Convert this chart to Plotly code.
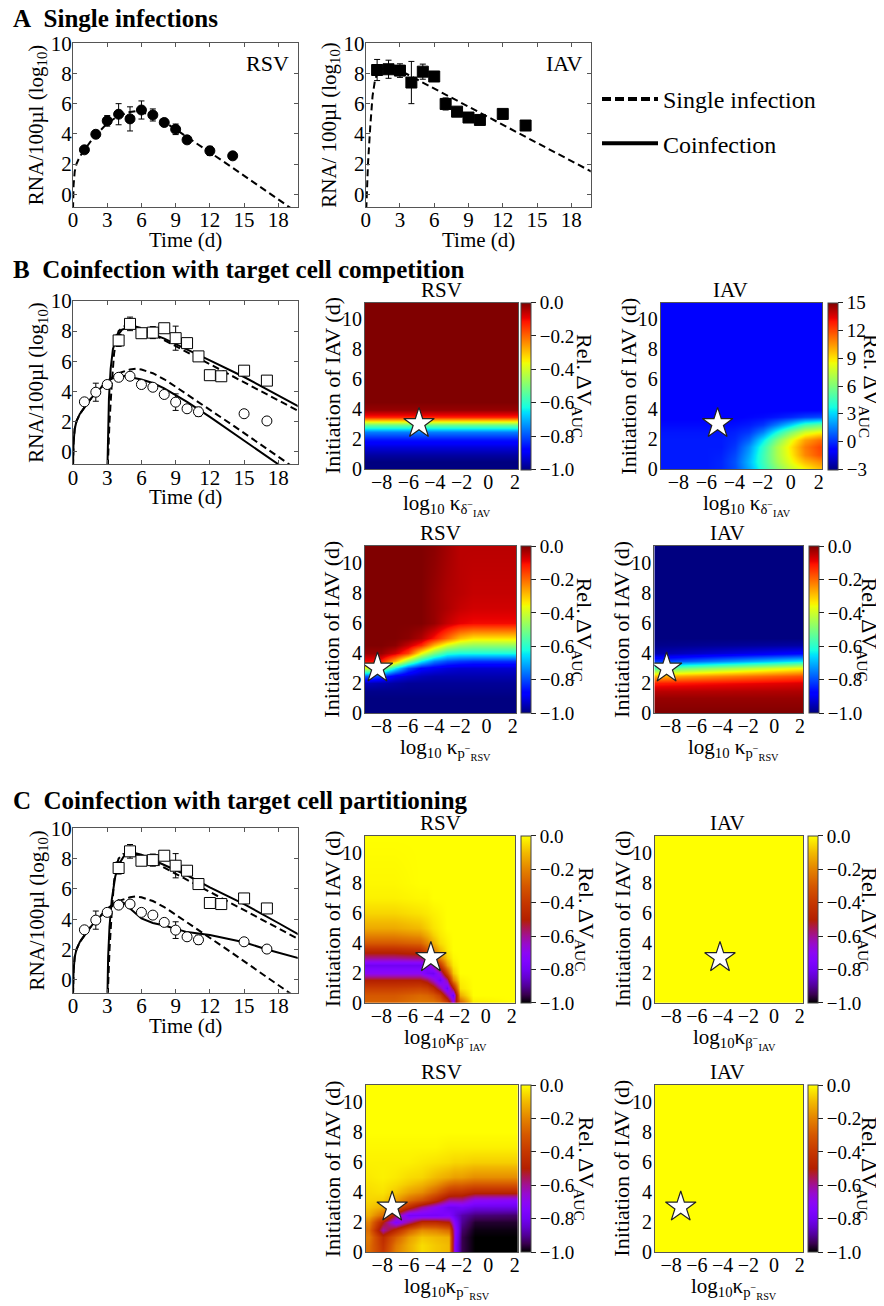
import numpy as np
import plotly.graph_objects as go

W, H = 884, 1306
OFF = 8  # the page body margin shifts the figure by 8 px
SERIF = "Liberation Serif"

# ---------------- panel A: single infections ----------------
a_rsv_day = [1, 2, 3, 4, 5, 6, 7, 8, 9, 10, 12, 14]
a_rsv_rna = [2.94, 3.97, 4.86, 5.3, 4.99, 5.58, 5.25, 4.75, 4.3, 3.6, 2.87, 2.54]
a_rsv_err = [0.1, 0.25, 0.35, 0.7, 0.8, 0.6, 0.4, 0.25, 0.35, 0.1, 0.3, 0.0]

a_iav_day = [1, 2, 3, 4, 5, 6, 7, 8, 9, 10, 12, 14]
a_iav_rna = [8.23, 8.28, 8.19, 7.4, 8.12, 7.8, 5.98, 5.47, 5.08, 4.92, 5.32, 4.55]
a_iav_err = [0.7, 0.6, 0.45, 1.4, 0.5, 0.3, 0.4, 0.3, 0.0, 0.0, 0.0, 0.2]

# model fits, single infection
rsv_single_day = [0, 0.05, 0.15, 0.3, 0.6, 1, 1.5, 2, 3, 4, 5, 5.5, 6, 7, 8, 9, 10, 12, 14, 16, 18, 20]
rsv_single_rna = [-1.0, 0.6, 1.5, 2.0, 2.5, 2.95, 3.45, 3.9, 4.7, 5.2, 5.45, 5.5, 5.45, 5.2, 4.8, 4.3, 3.8,
                  2.8, 1.75, 0.7, -0.35, -1.4]
iav_single_day = [0.05, 0.2, 0.4, 0.6, 0.8, 1.0, 1.4, 2, 3, 5, 8, 10, 12, 15, 18, 20]
iav_single_rna = [-1.0, 2.0, 4.5, 6.5, 7.5, 8.0, 8.3, 8.4, 8.2, 7.4, 6.2, 5.4, 4.6, 3.4, 2.2, 1.4]

# ---------------- panels B / C: coinfection data ----------------
co_iav_day = [4, 5, 6, 7, 8, 9, 10, 11, 12, 13, 15, 17]
co_iav_rna = [7.38, 8.48, 7.86, 7.9, 8.19, 7.53, 7.2, 6.32, 5.07, 5.0, 5.37, 4.71]
co_iav_err = [0.4, 0.45, 0.0, 0.4, 0.0, 0.8, 0.0, 0.0, 0.0, 0.3, 0.0, 0.0]
co_rsv_day = [1, 2, 3, 4, 5, 6, 7, 8, 9, 10, 11, 15, 17]
co_rsv_rna = [3.3, 3.94, 4.45, 4.93, 5.0, 4.45, 4.27, 3.79, 3.28, 2.84, 2.64, 2.51, 2.03]
co_rsv_err = [0.0, 0.6, 0.0, 0.0, 0.0, 0.0, 0.0, 0.0, 0.55, 0.0, 0.3, 0.0, 0.0]

# IAV single-infection fit, IAV given at day 3
iav_late_day = [3.05, 3.2, 3.4, 3.6, 3.8, 4.0, 4.4, 5, 6, 8, 11, 13, 15, 18, 20]
iav_late_rna = [-1.0, 2.0, 4.5, 6.5, 7.5, 8.0, 8.3, 8.4, 8.2, 7.4, 6.2, 5.4, 4.6, 3.4, 2.6]

# B: competition model
b_rsv_co_day = [0, 0.05, 0.15, 0.3, 0.6, 1, 1.5, 2, 3, 3.5, 4, 4.5, 5, 6, 7, 8, 9, 10, 12, 14, 16, 18, 20]
b_rsv_co_rna = [-1.0, 0.6, 1.5, 2.0, 2.5, 2.95, 3.45, 3.9, 4.65, 4.88, 5.0, 5.02, 4.95, 4.78, 4.55, 4.2,
                3.75, 3.3, 2.3, 1.25, 0.2, -0.85, -1.9]
b_iav_co_day = [3.02, 3.08, 3.15, 3.3, 3.5, 3.8, 4.3, 5, 6, 8, 10, 12, 15, 18, 20]
b_iav_co_rna = [-1.0, 1.5, 3.5, 5.5, 6.8, 7.6, 8.1, 8.25, 8.1, 7.5, 6.8, 6.05, 4.95, 3.7, 2.9]

# C: partitioning model
c_rsv_co_day = [0, 0.05, 0.15, 0.3, 0.6, 1, 1.5, 2, 3, 3.5, 4, 4.5, 5, 6, 7, 8, 10, 12, 15, 17, 20]
c_rsv_co_rna = [-1.0, 0.6, 1.5, 2.0, 2.5, 2.95, 3.45, 3.9, 4.65, 5.0, 5.25, 5.05, 4.7, 4.05, 3.75, 3.58,
                3.15, 2.96, 2.48, 2.0, 1.38]
c_iav_co_day = [3.02, 3.08, 3.2, 3.4, 3.7, 4.0, 4.5, 5, 6, 8, 10, 12, 15, 18, 20]
c_iav_co_rna = [-1.0, 1.5, 3.5, 5.3, 6.8, 7.6, 8.2, 8.45, 8.25, 7.6, 6.9, 6.1, 5.0, 3.75, 2.9]

# ---------------- heatmaps: Rel. dV_AUC vs log10 kappa and IAV start ----------------
hm_rows = [0, 0.5, 1, 1.5, 2, 2.5, 3, 3.5, 4, 4.5, 5, 6, 7, 8, 11]

b1_rsv_x = [-9, 2]
b1_rsv_profile = [-1.0, -1.0, -0.97, -0.92, -0.86, -0.75, -0.52, -0.12, -0.02, 0, 0, 0, 0, 0, 0]

b1_iav_x = [-9, -8, -7, -6, -5, -4, -3, -2, -1, 0, 1, 2]
b1_iav_z = [
    [-0.3, -0.3, -0.3, -0.3, -0.1, 0.6, 2.2, 4.2, 6.0, 7.5, 8.5, 9.5],
    [-0.3, -0.3, -0.3, -0.3, -0.1, 0.7, 2.5, 4.6, 6.8, 8.4, 9.8, 10.6],
    [-0.3, -0.3, -0.3, -0.3, -0.2, 0.5, 2.2, 4.6, 7.0, 8.8, 10.8, 11.8],
    [-0.3, -0.3, -0.3, -0.3, -0.3, 0.2, 1.8, 4.3, 7.0, 9.0, 11.0, 12.0],
    [-0.3, -0.3, -0.3, -0.3, -0.3, 0.0, 1.0, 3.3, 6.0, 8.3, 10.3, 11.2],
    [-0.4, -0.4, -0.4, -0.4, -0.4, -0.2, 0.2, 1.5, 3.8, 6.0, 7.8, 8.5],
    [-0.6, -0.6, -0.6, -0.6, -0.6, -0.5, -0.3, 0.2, 1.5, 3.0, 4.8, 5.5],
    [-0.8, -0.8, -0.8, -0.8, -0.8, -0.8, -0.7, -0.6, -0.4, -0.1, 0.3, 0.5],
    [-0.8] * 12, [-0.8] * 12, [-0.8] * 12, [-0.8] * 12, [-0.8] * 12, [-0.8] * 12, [-0.8] * 12,
]

b2_rsv_x = [-9, -8, -7, -6, -5, -4, -3, -2, -1, 2]
b2_rsv_z = [
    [-1.0] * 10,
    [-1.0] * 10,
    [-1.0] * 10,
    [-0.99] * 10,
    [-0.95, -0.96, -0.97, -0.98, -0.98, -0.98, -0.98, -0.98, -0.98, -0.98],
    [-0.78, -0.82, -0.9, -0.93, -0.95, -0.96, -0.96, -0.96, -0.96, -0.96],
    [-0.4, -0.45, -0.64, -0.8, -0.88, -0.9, -0.92, -0.93, -0.93, -0.93],
    [-0.1, -0.12, -0.28, -0.48, -0.64, -0.75, -0.8, -0.82, -0.83, -0.83],
    [-0.02, -0.02, -0.07, -0.16, -0.36, -0.5, -0.6, -0.62, -0.62, -0.62],
    [0, 0, -0.01, -0.06, -0.13, -0.28, -0.39, -0.45, -0.47, -0.47],
    [0, 0, 0, -0.01, -0.04, -0.11, -0.2, -0.29, -0.33, -0.33],
    [0, 0, 0, 0, 0, -0.02, -0.06, -0.09, -0.1, -0.1],
    [0, 0, 0, 0, 0, -0.02, -0.04, -0.06, -0.07, -0.07],
    [0, 0, 0, 0, 0, -0.02, -0.04, -0.05, -0.06, -0.06],
    [0, 0, 0, 0, 0, -0.01, -0.03, -0.05, -0.05, -0.05],
]

b2_iav_x = [-9, 2]
b2_iav_z = [
    [0.0, 0.0], [-0.01, -0.01], [-0.02, -0.02], [-0.05, -0.04], [-0.12, -0.08], [-0.28, -0.17],
    [-0.55, -0.36], [-0.82, -0.65], [-0.96, -0.88], [-0.99, -0.97], [-1.0, -1.0], [-1.0, -1.0],
    [-1.0, -1.0], [-1.0, -1.0], [-1.0, -1.0],
]

c1_rsv_x = [-9, -7, -5, -4.5, -4, -3.5, -3, -2.5, -2, -1, 2]
c1_rsv_z = [
    [-0.27, -0.27, -0.22, -0.22, -0.22, -0.25, -0.35, -0.65, -0.3, -0.03, 0],
    [-0.3, -0.3, -0.26, -0.27, -0.3, -0.38, -0.6, -0.8, -0.12, 0, 0],
    [-0.38, -0.38, -0.36, -0.38, -0.45, -0.6, -0.8, -0.5, -0.04, 0, 0],
    [-0.5, -0.5, -0.5, -0.55, -0.65, -0.8, -0.6, -0.2, -0.02, 0, 0],
    [-0.7, -0.7, -0.7, -0.78, -0.8, -0.65, -0.35, -0.08, 0, 0, 0],
    [-0.8, -0.8, -0.8, -0.75, -0.6, -0.4, -0.15, -0.03, 0, 0, 0],
    [-0.6, -0.6, -0.58, -0.5, -0.38, -0.2, -0.07, -0.01, 0, 0, 0],
    [-0.45, -0.45, -0.42, -0.32, -0.22, -0.1, -0.03, 0, 0, 0, 0],
    [-0.3, -0.3, -0.27, -0.2, -0.12, -0.05, -0.02, 0, 0, 0, 0],
    [-0.2, -0.2, -0.17, -0.12, -0.07, -0.03, -0.01, 0, 0, 0, 0],
    [-0.13, -0.13, -0.1, -0.07, -0.04, -0.02, 0, 0, 0, 0, 0],
    [-0.06, -0.06, -0.04, -0.03, -0.02, -0.01, 0, 0, 0, 0, 0],
    [-0.02, -0.02, -0.01, -0.01, 0, 0, 0, 0, 0, 0, 0],
    [-0.01, -0.01, 0, 0, 0, 0, 0, 0, 0, 0, 0],
    [0] * 11,
]

c2_rsv_x = [-9, -8, -7, -6, -5, -4, -3, -2.5, -2, -1, 2]
c2_rsv_z = [
    [-0.25, -0.4, -0.2, -0.12, -0.05, -0.08, -0.1, -0.75, -0.95, -1.0, -1.0],
    [-0.24, -0.42, -0.22, -0.12, -0.05, -0.08, -0.1, -0.75, -0.95, -1.0, -1.0],
    [-0.22, -0.45, -0.28, -0.15, -0.08, -0.1, -0.12, -0.72, -0.95, -1.0, -1.0],
    [-0.25, -0.62, -0.45, -0.28, -0.18, -0.2, -0.25, -0.7, -0.93, -0.99, -0.99],
    [-0.2, -0.5, -0.75, -0.6, -0.45, -0.45, -0.5, -0.75, -0.9, -0.97, -0.97],
    [-0.12, -0.25, -0.55, -0.78, -0.78, -0.78, -0.75, -0.82, -0.88, -0.92, -0.93],
    [-0.08, -0.12, -0.3, -0.45, -0.6, -0.7, -0.8, -0.8, -0.78, -0.82, -0.82],
    [-0.06, -0.07, -0.15, -0.25, -0.32, -0.45, -0.6, -0.6, -0.6, -0.7, -0.72],
    [-0.05, -0.04, -0.08, -0.14, -0.18, -0.28, -0.4, -0.42, -0.42, -0.47, -0.47],
    [-0.04, -0.03, -0.05, -0.08, -0.11, -0.17, -0.25, -0.27, -0.27, -0.3, -0.3],
    [-0.03, -0.02, -0.03, -0.05, -0.06, -0.1, -0.13, -0.15, -0.15, -0.18, -0.18],
    [-0.02, -0.02, -0.02, -0.02, -0.03, -0.04, -0.05, -0.06, -0.06, -0.07, -0.07],
    [-0.01, -0.01, -0.01, -0.01, -0.01, -0.01, -0.02, -0.02, -0.02, -0.02, -0.02],
    [0] * 11,
    [0] * 11,
]

c_iav_x = [-9, 2]
c_iav_y = [0, 11]
c1_iav_z = [[0.0, 0.0], [0.0, 0.0]]
c2_iav_z = [[0.0, 0.0], [0.0, 0.0]]

# fitted parameter (star) for each row of heatmaps
star_b1 = (-5.2, 3.05)
star_b2 = (-8.3, 3.0)
star_c1 = (-4.2, 3.0)
star_c2 = (-7.25, 3.0)

# ---------------- colour maps ----------------
JET = [[0, "rgb(0,0,128)"], [0.11, "rgb(0,0,255)"], [0.125, "rgb(0,0,255)"], [0.34, "rgb(0,219,255)"],
       [0.35, "rgb(0,230,247)"], [0.375, "rgb(21,255,226)"], [0.64, "rgb(239,255,8)"],
       [0.65, "rgb(247,245,0)"], [0.66, "rgb(255,236,0)"], [0.89, "rgb(255,19,0)"],
       [0.91, "rgb(232,0,0)"], [1, "rgb(128,0,0)"]]
GNUPLOT = [[0, "rgb(0,0,0)"], [0.05, "rgb(57,0,79)"], [0.1, "rgb(81,0,150)"], [0.15, "rgb(99,1,206)"],
           [0.2, "rgb(114,2,243)"], [0.25, "rgb(128,4,255)"], [0.3, "rgb(140,7,243)"],
           [0.35, "rgb(151,11,206)"], [0.4, "rgb(161,16,150)"], [0.45, "rgb(171,23,79)"],
           [0.5, "rgb(180,32,0)"], [0.6, "rgb(198,55,0)"], [0.7, "rgb(213,87,0)"],
           [0.8, "rgb(228,131,0)"], [0.9, "rgb(242,186,0)"], [1, "rgb(255,255,0)"]]

# ---------------- layout boxes (pixels in the final picture) ----------------
BOX = {
    1: (73, 297.7, 43.3, 207), 2: (365.7, 590.7, 43.3, 207),
    3: (73, 297.7, 301, 464.3), 4: (73, 297.7, 828.3, 992.7),
    5: (365, 518.3, 302.7, 469.3), 6: (660.7, 822.3, 302.7, 469.3),
    7: (365, 516, 546, 713.3), 8: (654.3, 803.3, 546, 713.3),
    9: (365, 515, 836, 1002.7), 10: (655, 803, 836, 1002.7),
    11: (365.7, 518, 1085, 1252.3), 12: (655, 803, 1085, 1252.3),
}
CB_X = {5: 520.7, 6: 828, 7: 520.7, 8: 808.7, 9: 520.7, 10: 808, 11: 520.7, 12: 808}
CB_TITLE_X = {5: 583, 6: 870, 7: 583, 8: 868, 9: 585, 10: 868, 11: 585, 12: 868}


def fx(px):
    return (px - OFF) / W


def fy(py):
    return 1 - (py - OFF) / H


def refs(n):
    return ("x" if n == 1 else f"x{n}"), ("y" if n == 1 else f"y{n}")


fig = go.Figure()
annotations = []


def note(text, x, y, size, angle=0, xanchor="center", yanchor="middle"):
    annotations.append(dict(text=text, x=fx(x), y=fy(y), xref="paper", yref="paper", showarrow=False,
                            textangle=angle, xanchor=xanchor, yanchor=yanchor,
                            font=dict(family=SERIF, size=size, color="black")))


def line_axes(n, ytitle):
    l, r, t, b = BOX[n]
    xr, yr = refs(n)
    style = dict(showline=True, mirror="ticks", linecolor="#555", linewidth=1.2, ticks="inside", ticklen=4,
                 tickcolor="#555", showgrid=False, zeroline=False, automargin=False,
                 tickfont=dict(family=SERIF, size=21, color="black"))
    fig.update_layout(**{
        ("xaxis" if n == 1 else f"xaxis{n}"): dict(domain=[fx(l), fx(r)], anchor=yr, range=[0, 19.7],
                                                  tickvals=[0, 3, 6, 9, 12, 15, 18], ticklabelstandoff=-6,
                                                  **style),
        ("yaxis" if n == 1 else f"yaxis{n}"): dict(domain=[fy(b), fy(t)], anchor=xr, range=[-0.85, 10],
                                                  tickvals=[0, 2, 4, 6, 8, 10], ticklabelstandoff=-4,
                                                  **style),
    })
    note("Time (d)", (l + r) / 2, b + 33, 21)
    note(ytitle, l - 36, (t + b) / 2, 21, angle=-90)


def heat_axes(n, title, xtitle):
    l, r, t, b = BOX[n]
    xr, yr = refs(n)
    style = dict(showline=True, mirror=True, linecolor="#555", linewidth=1, ticks="", showgrid=False,
                 zeroline=False, automargin=False, tickfont=dict(family=SERIF, size=20, color="black"))
    fig.update_layout(**{
        f"xaxis{n}": dict(domain=[fx(l), fx(r)], anchor=yr, range=[-9.25, 2.25], ticklabelstandoff=-5,
                          tickvals=[-8, -6, -4, -2, 0, 2], **style),
        f"yaxis{n}": dict(domain=[fy(b), fy(t)], anchor=xr, range=[0, 11.1], ticklabelstandoff=-2,
                          tickvals=[0, 2, 4, 6, 8, 10], **style),
    })
    cx = (l + r) / 2 if title == "RSV" else (730 if n == 6 else 727)
    note(title, cx, t - 13, 21)
    note(xtitle, (l + r) / 2 + 5, b + 36, 21)
    note("Initiation of IAV (d)", l - 33, (t + b) / 2, 22, angle=-90)
    note("Rel. ΔV<sub>AUC</sub>", CB_TITLE_X[n], (t + b) / 2, 22, angle=90)


def heat(n, x, y, z, scale, zmin, zmax, ticks, star):
    l, r, t, b = BOX[n]
    xr, yr = refs(n)
    fig.add_trace(go.Heatmap(
        x=x, y=y, z=z, colorscale=scale, zmin=zmin, zmax=zmax, zsmooth="best", xaxis=xr, yaxis=yr,
        hoverinfo="skip",
        colorbar=dict(x=fx(CB_X[n]), xanchor="left", y=fy((t + b) / 2), yanchor="middle",
                      len=(b - t) / H, lenmode="fraction", thickness=10, xpad=0, ypad=0,
                      outlinewidth=1, outlinecolor="#444", ticks="outside", ticklen=5, tickcolor="#222",
                      tickvals=ticks, tickformat=".1f" if zmax == 0 else "d",
                      tickfont=dict(family=SERIF, size=19, color="black"))))
    fig.add_trace(go.Scatter(x=[star[0]], y=[star[1]], mode="markers", xaxis=xr, yaxis=yr, showlegend=False,
                             marker=dict(symbol="star", size=23, color="white",
                                         line=dict(color="#222", width=1.2))))


def curve(n, day, rna, dashed):
    xr, yr = refs(n)
    fig.add_trace(go.Scatter(x=day, y=rna, mode="lines", xaxis=xr, yaxis=yr, showlegend=False,
                             line=dict(color="black", width=2, dash="7px,4px" if dashed else "solid")))


def points(n, day, rna, err, symbol, filled):
    xr, yr = refs(n)
    fig.add_trace(go.Scatter(
        x=day, y=rna, mode="markers", xaxis=xr, yaxis=yr, showlegend=False,
        error_y=dict(type="data", array=err, visible=True, thickness=1, width=3, color="black"),
        marker=dict(symbol=symbol, size=11 if symbol == "square" else 10,
                    color="black" if filled else "white", line=dict(color="black", width=1))))


# ---- A
curve(1, rsv_single_day, rsv_single_rna, True)
points(1, a_rsv_day, a_rsv_rna, a_rsv_err, "circle", True)
curve(2, iav_single_day, iav_single_rna, True)
points(2, a_iav_day, a_iav_rna, a_iav_err, "square", True)
line_axes(1, "RNA/100µl (log<sub>10</sub>)")
line_axes(2, "RNA/ 100µl (log<sub>10</sub>)")
annotations.append(dict(text="RSV", x=0.97, y=0.965, xref="x domain", yref="y domain", showarrow=False,
                        xanchor="right", yanchor="top", font=dict(family=SERIF, size=22, color="black")))
annotations.append(dict(text="IAV", x=0.97, y=0.965, xref="x2 domain", yref="y2 domain", showarrow=False,
                        xanchor="right", yanchor="top", font=dict(family=SERIF, size=22, color="black")))

# ---- B and C time courses
for n, rsv_co, iav_co in [(3, (b_rsv_co_day, b_rsv_co_rna), (b_iav_co_day, b_iav_co_rna)),
                          (4, (c_rsv_co_day, c_rsv_co_rna), (c_iav_co_day, c_iav_co_rna))]:
    curve(n, rsv_single_day, rsv_single_rna, True)
    curve(n, iav_late_day, iav_late_rna, True)
    curve(n, rsv_co[0], rsv_co[1], False)
    curve(n, iav_co[0], iav_co[1], False)
    points(n, co_rsv_day, co_rsv_rna, co_rsv_err, "circle", False)
    points(n, co_iav_day, co_iav_rna, co_iav_err, "square", False)
    line_axes(n, "RNA/100µl (log<sub>10</sub>)")

# ---- heatmaps
unit_ticks = [0, -0.2, -0.4, -0.6, -0.8, -1.0]
b1_rsv_z = np.column_stack([b1_rsv_profile, b1_rsv_profile])
heat(5, b1_rsv_x, hm_rows, b1_rsv_z, JET, -1, 0, unit_ticks, star_b1)
heat(6, b1_iav_x, hm_rows, b1_iav_z, JET, -3, 15, [15, 12, 9, 6, 3, 0, -3], star_b1)
heat(7, b2_rsv_x, hm_rows, b2_rsv_z, JET, -1, 0, unit_ticks, star_b2)
heat(8, b2_iav_x, hm_rows, b2_iav_z, JET, -1, 0, unit_ticks, star_b2)
heat(9, c1_rsv_x, hm_rows, c1_rsv_z, GNUPLOT, -1, 0, unit_ticks, star_c1)
heat(10, c_iav_x, c_iav_y, c1_iav_z, GNUPLOT, -1, 0, unit_ticks, star_c1)
heat(11, c2_rsv_x, hm_rows, c2_rsv_z, GNUPLOT, -1, 0, unit_ticks, star_c2)
heat(12, c_iav_x, c_iav_y, c2_iav_z, GNUPLOT, -1, 0, unit_ticks, star_c2)

k_delta = "log<sub>10</sub> κ<sub>δ<sup>−</sup><sub>IAV</sub></sub>"
k_p = "log<sub>10</sub> κ<sub>p<sup>−</sup><sub>RSV</sub></sub>"
k_beta = "log<sub>10</sub>κ<sub>β<sup>−</sup><sub>IAV</sub></sub>"
k_p2 = "log<sub>10</sub>κ<sub>p<sup>−</sup><sub>RSV</sub></sub>"
heat_axes(5, "RSV", k_delta)
heat_axes(6, "IAV", k_delta)
heat_axes(7, "RSV", k_p)
heat_axes(8, "IAV", k_p)
heat_axes(9, "RSV", k_beta)
heat_axes(10, "IAV", k_beta)
heat_axes(11, "RSV", k_p2)
heat_axes(12, "IAV", k_p2)

# ---- legend entries
fig.add_trace(go.Scatter(x=[None], y=[None], mode="lines", name="Single infection", legendgroup="s",
                         line=dict(color="black", width=4, dash="9px,4px")))
fig.add_trace(go.Scatter(x=[None], y=[None], mode="lines", name="Coinfection", legendgroup="c",
                         line=dict(color="black", width=4)))

# ---- panel headings
note("<b>A\u00a0 Single infections</b>", 11, 18, 25, xanchor="left")
note("<b>B\u00a0 Coinfection with target cell competition</b>", 11, 269, 25, xanchor="left")
note("<b>C\u00a0 Coinfection with target cell partitioning</b>", 11, 800, 25, xanchor="left")

fig.update_layout(
    template="none",
    width=W, height=H, margin=dict(l=0, r=0, t=0, b=0, autoexpand=False),
    paper_bgcolor="white", plot_bgcolor="white",
    font=dict(family=SERIF, size=20, color="black"),
    annotations=annotations,
    showlegend=True,
    legend=dict(x=fx(597), y=fy(77), xanchor="left", yanchor="top", bgcolor="rgba(0,0,0,0)",
                font=dict(family=SERIF, size=24, color="black"), itemwidth=56, tracegroupgap=10),
)

fig.write_html("out.html")
